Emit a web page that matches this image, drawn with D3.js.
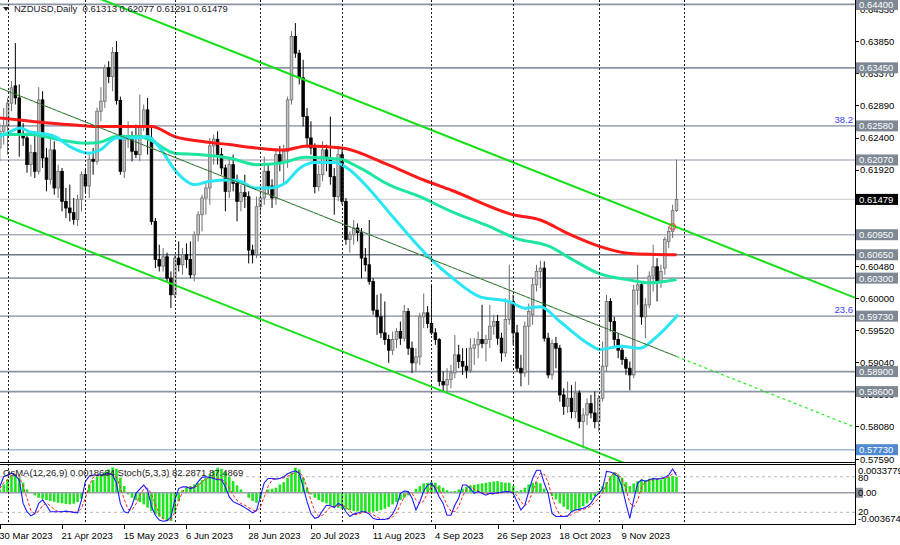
<!DOCTYPE html>
<html><head><meta charset="utf-8">
<script src="https://cdn.jsdelivr.net/npm/d3@7"></script>
<style>
html,body{margin:0;padding:0;background:#fff;}
svg{display:block;font-family:"Liberation Sans",Arial,sans-serif;}
</style></head><body>
<svg id="c" width="900" height="545"></svg>
<script>
// ---------------- DATA ----------------
const symbolTitle = "NZDUSD,Daily";
const firstBarDate = "2023-03-30";
const open = [.6225,.6250,.6258,.6292,.6318,.6300,.6247,.6240,.6200,.6218,
.6190,.6297,.6210,.6178,.6222,.6165,.6190,.6145,.6135,.6128,
.6118,.6148,.6185,.6168,.6208,.6205,.6280,.6295,.6345,.6332,
.6368,.6296,.6190,.6237,.6242,.6220,.6215,.6258,.6282,.6240,
.6115,.6058,.6048,.6062,.6030,.6005,.6060,.6050,.6065,.6058,
.6035,.6095,.6125,.6150,.6165,.6228,.6238,.6215,.6195,.6160,
.6200,.6172,.6145,.6158,.6152,.6072,.6065,.6137,.6150,.6190,
.6168,.6150,.6215,.6205,.6220,.6297,.6392,.6367,.6330,.6272,
.6240,.6225,.6167,.6185,.6222,.6210,.6182,.6152,.6215,.6145,
.6088,.6095,.6105,.6098,.6060,.6050,.6025,.5982,.5972,.5948,
.5938,.5922,.5938,.5950,.5940,.5980,.5925,.5903,.5912,.5972,
.5978,.5962,.5948,.5938,.5875,.5870,.5878,.5888,.5915,.5905,
.5898,.5892,.5925,.5930,.5938,.5932,.5938,.5958,.5965,.5940,
.5918,.5968,.5995,.5948,.5895,.5888,.5958,.5975,.6020,.6040,
.6045,.5940,.5885,.5932,.5925,.5855,.5838,.5850,.5830,.5858,
.5815,.5825,.5842,.5828,.5815,.5850,.5898,.5995,.5965,.5938,
.5922,.5908,.5895,.5885,.6012,.6020,.5972,.5990,.6033,.6047,
.6025,.6045,.6085,.6100,.61313];
const high = [.6262,.6285,.6300,.6325,.6382,.6320,.6262,.6248,.6230,.6250,
.6316,.6310,.6225,.6240,.6235,.6200,.6195,.6165,.6170,.6150,
.6155,.6190,.6192,.6215,.6225,.6285,.6316,.6350,.6355,.6376,
.6385,.6302,.6245,.6265,.6250,.6260,.6305,.6290,.6300,.6255,
.6120,.6080,.6075,.6068,.6040,.6065,.6085,.6075,.6082,.6085,
.6100,.6130,.6155,.6175,.6240,.6245,.6250,.6225,.6200,.6210,
.6215,.6185,.6170,.6185,.6160,.6080,.6152,.6160,.6212,.6200,
.6178,.6225,.6228,.6230,.6302,.6400,.6412,.6372,.6357,.6285,
.6265,.6232,.6200,.6235,.6230,.6272,.6195,.6225,.6222,.6150,
.6100,.6117,.6112,.6105,.6075,.6117,.6030,.6005,.6007,.5995,
.5945,.5950,.5955,.5965,.5990,.5985,.5935,.5925,.5978,.6007,
.5988,.6020,.5955,.5940,.5890,.5895,.5900,.5945,.5930,.5925,
.5925,.5940,.5940,.5950,.5990,.5945,.5990,.5975,.5975,.5948,
.6000,.6050,.6005,.5960,.5915,.5965,.5992,.6030,.6050,.6056,
.6055,.5948,.5938,.5942,.5930,.5865,.5875,.5870,.5875,.5862,
.5835,.5850,.5855,.5860,.5855,.5935,.6005,.6000,.5972,.5948,
.5930,.5912,.5905,.6020,.6050,.6025,.6000,.6040,.6080,.6060,
.6050,.6092,.6107,.6140,.62077];
const low = [.6205,.6230,.6215,.6280,.6290,.6212,.6228,.6188,.6182,.6180,
.6185,.6195,.6160,.6170,.6155,.6150,.6130,.6120,.6115,.6110,
.6108,.6130,.6158,.6150,.6185,.6200,.6265,.6285,.6322,.6310,
.6290,.6185,.6180,.6225,.6205,.6210,.6205,.6250,.6215,.6110,
.6045,.6040,.6040,.6025,.5985,.6000,.6040,.6035,.6045,.6030,
.6025,.6085,.6100,.6125,.6140,.6200,.6200,.6185,.6130,.6150,
.6160,.6115,.6130,.6135,.6052,.6052,.6060,.6125,.6140,.6155,
.6135,.6140,.6190,.6172,.6195,.6290,.6360,.6320,.6257,.6225,
.6215,.6157,.6160,.6175,.6190,.6170,.6125,.6145,.6140,.6080,
.6068,.6080,.6085,.6030,.6040,.6020,.5975,.5945,.5940,.5930,
.5903,.5915,.5925,.5930,.5935,.5915,.5888,.5890,.5900,.5955,
.5955,.5945,.5930,.5868,.5860,.5860,.5865,.5880,.5895,.5885,
.5880,.5888,.5900,.5910,.5925,.5905,.5925,.5945,.5930,.5905,
.5912,.5960,.5930,.5890,.5868,.5882,.5870,.5960,.6010,.6015,
.5935,.5880,.5878,.5895,.5845,.5825,.5828,.5820,.5820,.5805,
.5775,.5810,.5820,.5805,.5800,.5845,.5890,.5950,.5925,.5910,
.5900,.5885,.5862,.5880,.5990,.5960,.5940,.5985,.6010,.5995,
.6015,.6035,.6075,.6090,.61291];
const close = [.6250,.6258,.6292,.6315,.6300,.6247,.6240,.6200,.6218,.6190,
.6297,.6210,.6178,.6222,.6165,.6190,.6145,.6135,.6128,.6118,
.6148,.6185,.6168,.6208,.6205,.6280,.6295,.6345,.6332,.6368,
.6296,.6190,.6237,.6242,.6220,.6215,.6258,.6282,.6240,.6115,
.6058,.6048,.6062,.6030,.6005,.6060,.6050,.6065,.6058,.6035,
.6095,.6125,.6150,.6165,.6228,.6238,.6215,.6195,.6160,.6200,
.6172,.6145,.6158,.6152,.6072,.6065,.6137,.6150,.6190,.6168,
.6150,.6215,.6205,.6220,.6297,.6392,.6367,.6330,.6272,.6240,
.6225,.6167,.6185,.6222,.6210,.6182,.6152,.6215,.6145,.6088,
.6095,.6105,.6098,.6060,.6050,.6025,.5982,.5972,.5948,.5938,
.5922,.5938,.5950,.5940,.5980,.5925,.5903,.5912,.5972,.5978,
.5962,.5948,.5938,.5875,.5870,.5878,.5888,.5915,.5905,.5898,
.5892,.5925,.5930,.5938,.5932,.5938,.5958,.5965,.5940,.5918,
.5968,.5995,.5948,.5895,.5888,.5958,.5980,.6020,.6040,.6045,
.5940,.5885,.5932,.5925,.5855,.5838,.5850,.5830,.5858,.5815,
.5825,.5842,.5828,.5815,.5850,.5898,.5995,.5965,.5938,.5922,
.5908,.5895,.5885,.6012,.6020,.5972,.5990,.6033,.6047,.6025,
.6040,.6088,.6100,.6131,.61479];

// moving averages: [bar index, price]
const maRed = [[0,.6270],[20,.6259],[26,.6257],[39,.6257],[45,.6242],[53,.6234],[59,.6230],[66,.6225],[73,.6222],[79,.6228],[88,.6225],[99,.6202],[109,.6177],[116,.6162],[132,.6125],[139,.6117],[146,.6097],[154,.6078],[162,.6067],[174,.6065]];
const maGreen = [[0,.6245],[8,.6245],[15.5,.6237],[22,.6232],[26,.6234],[30,.6242],[36,.6242],[38.6,.6237],[45,.6217],[51.5,.6215],[59,.6210],[66,.6200],[72,.6202],[78.5,.6211],[87.5,.6208],[92.6,.6195],[100,.6170],[108,.6152],[116,.6130],[126,.6107],[132.5,.6090],[141.5,.6077],[146.6,.6060],[154,.6037],[162,.6027],[167,.6023],[174,.6028]];
const maCyan = [[0,.6242],[2.6,.6249],[5.2,.6255],[7.8,.6249],[10.3,.6247],[14.2,.6242],[18,.6227],[22.7,.6217],[25.8,.6222],[30,.6240],[34.8,.6240],[37.9,.6242],[41.2,.6225],[45,.6192],[50.2,.6170],[54,.6175],[59.2,.6177],[61.8,.6175],[65.6,.6165],[69.5,.6165],[73.3,.6172],[77.2,.6195],[81,.6203],[86.2,.6203],[90,.6192],[95.2,.6162],[100.3,.6127],[105.5,.6092],[110.6,.6060],[116,.6032],[123.5,.6002],[131,.5995],[135,.5985],[139,.5987],[144,.5965],[151.8,.5930],[154.3,.5923],[159.5,.5928],[164.6,.5925],[168.5,.5940],[174.4,.5975]];

// channel trend lines: [bar index, price]
const chanUpper = [[0,.65077],[220,.60004]];
const chanLower = [[0,.61232],[220,.56161]];
const chanMid = [[0,.63148],[174,.59127]];
const chanMidExt = [[174,.59127],[220,.58064]];
const touchMarker = [173,.6107];

// horizontal levels
const levelLabels = ["0.64400","0.63450","0.62580","0.62070","0.60950","0.60650","0.60300","0.59730","0.58900","0.58600","0.57730"];
const currentPrice = "0.61479";
const fibLabels = [["38.2","0.62580"],["23.6","0.59730"]];
const priceTicks = ["0.64330","0.63850","0.63370","0.62890","0.62400","0.61920","0.60480","0.60000","0.59520","0.59040","0.58560","0.58080","0.57590"];
const dateLabels = ["30 Mar 2023","21 Apr 2023","15 May 2023","6 Jun 2023","28 Jun 2023","20 Jul 2023","11 Aug 2023","4 Sep 2023","26 Sep 2023","18 Oct 2023","9 Nov 2023"];

// OsMA histogram
const osma = [0.00039,0.00098,0.00157,0.00196,0.00216,0.00176,0.00118,0.00039,0.00005,-0.00031,
-0.00059,-0.00071,-0.00086,-0.00098,-0.00106,-0.00118,-0.00125,-0.00133,-0.00137,-0.00129,
-0.00110,-0.00071,-0.00005,0.00098,0.00149,0.00188,0.00216,0.00243,0.00274,0.00298,
0.00282,0.00176,0.00078,-0.00020,-0.00059,-0.00086,-0.00110,-0.00137,-0.00176,-0.00216,
-0.00255,-0.00282,-0.00306,-0.00321,-0.00333,-0.00235,-0.00098,0.00031,0.00059,0.00078,
0.00098,0.00118,0.00149,0.00176,0.00216,0.00255,0.00294,0.00282,0.00243,0.00188,
0.00137,0.00086,0.00039,-0.00004,-0.00059,-0.00098,-0.00118,-0.00071,0.00004,0.00039,
0.00047,0.00059,0.00098,0.00125,0.00176,0.00235,0.00294,0.00274,0.00176,0.00059,
-0.00020,-0.00059,-0.00086,-0.00110,-0.00125,-0.00149,-0.00165,-0.00176,-0.00188,-0.00196,
-0.00208,-0.00216,-0.00220,-0.00227,-0.00227,-0.00227,-0.00223,-0.00216,-0.00204,-0.00188,
-0.00165,-0.00137,-0.00110,-0.00086,-0.00059,-0.00031,0.00008,0.00047,0.00078,0.00110,
0.00118,0.00125,0.00118,0.00086,0.00059,0.00031,0.00016,0.00020,0.00039,0.00047,
0.00071,0.00086,0.00094,0.00102,0.00110,0.00118,0.00125,0.00133,0.00137,0.00125,
0.00118,0.00118,0.00078,0.00020,0.00031,0.00059,0.00098,0.00118,0.00125,0.00110,
0.00047,-0.00004,-0.00039,-0.00078,-0.00125,-0.00165,-0.00196,-0.00216,-0.00204,-0.00188,
-0.00157,-0.00125,-0.00086,-0.00039,0.00020,0.00078,0.00125,0.00196,0.00243,0.00216,
0.00176,0.00125,0.00078,0.00110,0.00137,0.00149,0.00149,0.00165,0.00176,0.00165,
0.00157,0.00176,0.00188,0.00196,0.00187];
// Stochastic main / signal
const stochMain = [63,80,83,86,82,75,35,21,14,18,35,41,32,21,21,21,21,22,21,20,
19,41,72,81,83,83,83,84,86,83,69,35,21,19,32,52,59,66,58,30,
15,7,5,6,12,41,60,63,63,60,62,72,79,80,79,77,75,75,63,46,
38,35,32,28,24,19,23,46,70,77,77,76,77,80,85,88,90,86,63,38,
18,10,12,23,32,31,28,35,32,21,13,17,19,21,21,17,10,8,8,8,
10,17,30,52,56,55,44,24,38,56,66,69,60,46,35,15,15,32,44,66,
66,60,52,55,52,49,52,52,53,54,55,55,52,38,24,32,55,77,91,91,
69,52,18,13,13,13,14,21,24,25,27,30,35,46,52,60,89,88,85,80,
63,35,10,41,69,75,72,75,77,76,77,79,83,93,82.29];
const stochSignal = [60,70,75,83,84,81,64,44,23,18,22,31,36,31,25,21,21,21,21,21,
20,27,44,65,79,82,83,83,84,84,79,62,42,25,24,34,48,59,61,51,
34,17,9,6,8,20,38,55,62,62,62,65,71,77,79,79,77,76,71,61,
49,40,35,32,28,24,22,29,46,64,75,77,77,78,81,84,88,88,80,62,
40,22,13,15,22,29,30,31,32,29,22,17,16,19,20,20,16,12,9,8,
9,12,19,33,46,54,52,41,35,39,53,64,65,58,47,32,22,21,30,47,
59,64,59,56,53,52,51,51,52,53,54,55,54,48,38,31,37,55,74,86,
84,71,46,28,15,13,13,16,20,23,25,27,31,37,44,53,67,79,87,84,
76,59,36,29,40,62,72,74,75,76,77,77,80,85,87.49];
const indTitle = "OsMA(12,26,9) 0.0018684 Stoch(5,3,3) 82.2871 87.4869";
const indAxis = [["0.0033779",470],["80",477.5],["20",511.5],["-0.003674",518.5]];

// ---------------- DRAW ----------------
const svg = d3.select("#c");
const RIGHT = 855;
const x = d3.scaleLinear().domain([0,220]).range([-0.2,855.4]);
const y = d3.scaleLinear().domain([0.57535,0.64466]).range([462.7,0]);
const oy = d3.scaleLinear().domain([-0.003674,0.0033779]).range([524,464]);
const sy = d3.scaleLinear().domain([0,100]).range([524.2,464.9]);

// trading-day calendar
const cal = [];
{ let d = d3.timeParse("%Y-%m-%d")(firstBarDate);
  while (cal.length < 240) { const wd = d.getDay(); if (wd!==0 && wd!==6) cal.push(new Date(d)); d = d3.timeDay.offset(d,1); } }
const idxOf = dt => cal.findIndex(c => c.toDateString() === dt.toDateString());

const defs = svg.append("defs");
defs.append("clipPath").attr("id","cm").append("rect").attr("x",0).attr("y",0).attr("width",RIGHT).attr("height",462.3);
defs.append("clipPath").attr("id","ci").append("rect").attr("x",0).attr("y",464.5).attr("width",RIGHT).attr("height",59.5);

const gMain = svg.append("g").attr("clip-path","url(#cm)");
const gInd = svg.append("g").attr("clip-path","url(#ci)");

// vertical month grid
const monthIdx = [];
for (let i=1;i<cal.length;i++) if (cal[i].getMonth()!==cal[i-1].getMonth() && i<=176) monthIdx.push(i);
[[0,462],[464,524]].forEach(([a,b])=>{
  svg.append("g").selectAll("line").data(monthIdx).join("line")
    .attr("x1",i=>Math.round(x(i))+0.5).attr("x2",i=>Math.round(x(i))+0.5)
    .attr("y1",a).attr("y2",b).attr("stroke","#222").attr("stroke-dasharray","2,2").attr("stroke-width",1);
});

// horizontal levels
const levelColor = {"0.64400":"#8a94a4","0.63450":"#8a94a4","0.62580":"#a4acb8","0.62070":"#b4bac4","0.60950":"#a8b0bc","0.60650":"#6c7684","0.60300":"#98a2b0","0.59730":"#a4acb8","0.58900":"#8a94a4","0.58600":"#8a94a4","0.57730":"#a4b8d4"};
gMain.selectAll("line.lvl").data(levelLabels).join("line").attr("class","lvl")
  .attr("x1",0).attr("x2",RIGHT).attr("y1",d=>y(+d)).attr("y2",d=>y(+d))
  .attr("stroke",d=>levelColor[d]).attr("stroke-width",1.6);
gMain.append("line").attr("x1",0).attr("x2",RIGHT).attr("y1",y(+currentPrice)).attr("y2",y(+currentPrice))
  .attr("stroke","#d4d4d4").attr("stroke-width",1.4);

// candles
const idx = d3.range(close.length);
const gC = gMain.append("g");
gC.selectAll("line.wick").data(idx).join("line").attr("class","wick")
  .attr("x1",i=>x(i)).attr("x2",i=>x(i)).attr("y1",i=>y(high[i])).attr("y2",i=>y(low[i]))
  .attr("stroke",i=>close[i]>=open[i]?"#6e6e6e":"#000").attr("stroke-width",1);
gC.selectAll("rect.body").data(idx).join("rect").attr("class","body")
  .attr("x",i=>x(i)-1.3).attr("width",2.6)
  .attr("y",i=>y(Math.max(open[i],close[i])))
  .attr("height",i=>Math.max(0.8,Math.abs(y(open[i])-y(close[i]))))
  .attr("fill",i=>close[i]>=open[i]?"#c4c4c4":"#000")
  .attr("stroke",i=>close[i]>=open[i]?"#6e6e6e":"#000").attr("stroke-width",0.8);

// moving averages
const maLine = d3.line().x(d=>x(d[0])).y(d=>y(d[1])).curve(d3.curveMonotoneX);
gMain.append("path").datum(maRed).attr("d",maLine).attr("fill","none").attr("stroke","#ff1a1a").attr("stroke-width",3);
gMain.append("path").datum(maGreen).attr("d",maLine).attr("fill","none").attr("stroke","#1ee6a0").attr("stroke-width",3);
gMain.append("path").datum(maCyan).attr("d",maLine).attr("fill","none").attr("stroke","#28e6f4").attr("stroke-width",3);

// channel
const tl = d3.line().x(d=>x(d[0])).y(d=>y(d[1]));
gMain.append("path").datum(chanUpper).attr("d",tl).attr("stroke","#16e016").attr("stroke-width",2).attr("fill","none");
gMain.append("path").datum(chanLower).attr("d",tl).attr("stroke","#16e016").attr("stroke-width",2).attr("fill","none");
gMain.append("path").datum(chanMid).attr("d",tl).attr("stroke","#4a4a4a").attr("stroke-width",1).attr("fill","none");
gMain.append("path").datum(chanMid).attr("d",tl).attr("stroke","#22ee22").attr("stroke-width",1).attr("stroke-dasharray","2,4").attr("fill","none");
gMain.append("path").datum(chanMidExt).attr("d",tl).attr("stroke","#22ee22").attr("stroke-width",1.2).attr("stroke-dasharray","3,3").attr("fill","none");
gMain.append("circle").attr("cx",x(touchMarker[0])).attr("cy",y(touchMarker[1])).attr("r",3).attr("fill","none").attr("stroke","#ff3030").attr("stroke-width",1);

// fib labels
gMain.selectAll("text.fib").data(fibLabels).join("text").attr("class","fib")
  .attr("x",853).attr("y",d=>y(+d[1])-3).attr("text-anchor","end")
  .attr("font-size",9.5).attr("fill","#3a3aff").text(d=>d[0]);

// title
svg.append("path").attr("d","M3,7 L9,7 L6,11 Z").attr("fill","#222");
svg.append("text").attr("x",14).attr("y",12).attr("font-size",9.5).attr("fill","#1a1a2a")
  .style("white-space","pre").text(symbolTitle+"  "+[open[open.length-1],high[high.length-1],low[low.length-1],close[close.length-1]].map(v=>v.toFixed(5)).join(" "));

// ---- indicator panel ----
gInd.append("line").attr("x1",0).attr("x2",RIGHT).attr("y1",sy(80)).attr("y2",sy(80)).attr("stroke","#b8b8b8").attr("stroke-dasharray","3,3");
gInd.append("line").attr("x1",0).attr("x2",RIGHT).attr("y1",sy(20)).attr("y2",sy(20)).attr("stroke","#b8b8b8").attr("stroke-dasharray","3,3");
gInd.selectAll("rect.os").data(d3.range(osma.length)).join("rect").attr("class","os")
  .attr("x",i=>x(i)-1.3).attr("width",2.6)
  .attr("y",i=>Math.min(oy(0),oy(osma[i]))).attr("height",i=>Math.abs(oy(osma[i])-oy(0)))
  .attr("fill","#1ee61e");
gInd.append("line").attr("x1",0).attr("x2",RIGHT).attr("y1",oy(0)).attr("y2",oy(0)).attr("stroke","#9aa0a8").attr("stroke-width",1.3);
const sl = d3.line().x((d,i)=>x(i)).y(d=>sy(d));
gInd.append("path").datum(stochSignal).attr("d",sl).attr("fill","none").attr("stroke","#ff2020").attr("stroke-width",1).attr("stroke-dasharray","3,2");
gInd.append("path").datum(stochMain).attr("d",sl).attr("fill","none").attr("stroke","#1a1aff").attr("stroke-width",1.1);
svg.append("text").attr("x",3).attr("y",476).attr("font-size",9.5).attr("fill","#222").text(indTitle);

// panel borders & right axis
svg.append("line").attr("x1",0).attr("x2",RIGHT).attr("y1",462.5).attr("y2",462.5).attr("stroke","#000");
svg.append("line").attr("x1",0).attr("x2",RIGHT).attr("y1",464.5).attr("y2",464.5).attr("stroke","#000");
svg.append("line").attr("x1",0).attr("x2",RIGHT).attr("y1",524.5).attr("y2",524.5).attr("stroke","#000");
svg.append("line").attr("x1",RIGHT+0.5).attr("x2",RIGHT+0.5).attr("y1",0).attr("y2",525).attr("stroke","#000");

// price ticks
const gAx = svg.append("g").attr("font-size",9.5).attr("fill","#000");
priceTicks.forEach(t=>{
  const yy = y(+t);
  gAx.append("line").attr("x1",RIGHT).attr("x2",RIGHT+4).attr("y1",Math.round(yy)+0.5).attr("y2",Math.round(yy)+0.5).attr("stroke","#000");
  gAx.append("text").attr("x",860).attr("y",yy+3.5).text(t);
});
// level boxes
const boxColor = l => l==="0.57730" ? "#4f8ad0" : "#7e8794";
levelLabels.forEach(l=>{
  const yy = y(+l);
  gAx.append("rect").attr("x",856).attr("y",yy-5.5).attr("width",42).attr("height",11).attr("fill",boxColor(l));
  gAx.append("text").attr("x",859).attr("y",yy+3.5).attr("fill","#fff").text(l);
});
{ const yy = y(+currentPrice);
  gAx.append("rect").attr("x",856).attr("y",yy-5.5).attr("width",42).attr("height",11).attr("fill","#000");
  gAx.append("text").attr("x",859).attr("y",yy+3.5).attr("fill","#fff").text(currentPrice); }

// indicator axis labels
indAxis.forEach(([t,yy])=>{
  gAx.append("text").attr("x",858).attr("y",yy+3.5).text(t);
});
gAx.append("rect").attr("x",856).attr("y",oy(0)-5).attr("width",7).attr("height",10).attr("fill","#8a9099");
gAx.append("text").attr("x",858).attr("y",oy(0)+3.5).text("0.00");

// date labels
const pd = d3.timeParse("%d %b %Y");
dateLabels.forEach(lbl=>{
  const i = idxOf(pd(lbl));
  const xx = Math.round(x(i))+0.5;
  svg.append("line").attr("x1",xx).attr("x2",xx).attr("y1",525).attr("y2",529).attr("stroke","#000");
  svg.append("text").attr("x",x(i)-0.5).attr("y",539).attr("font-size",9.5).attr("fill","#000").text(lbl);
});
</script>
</body></html>
